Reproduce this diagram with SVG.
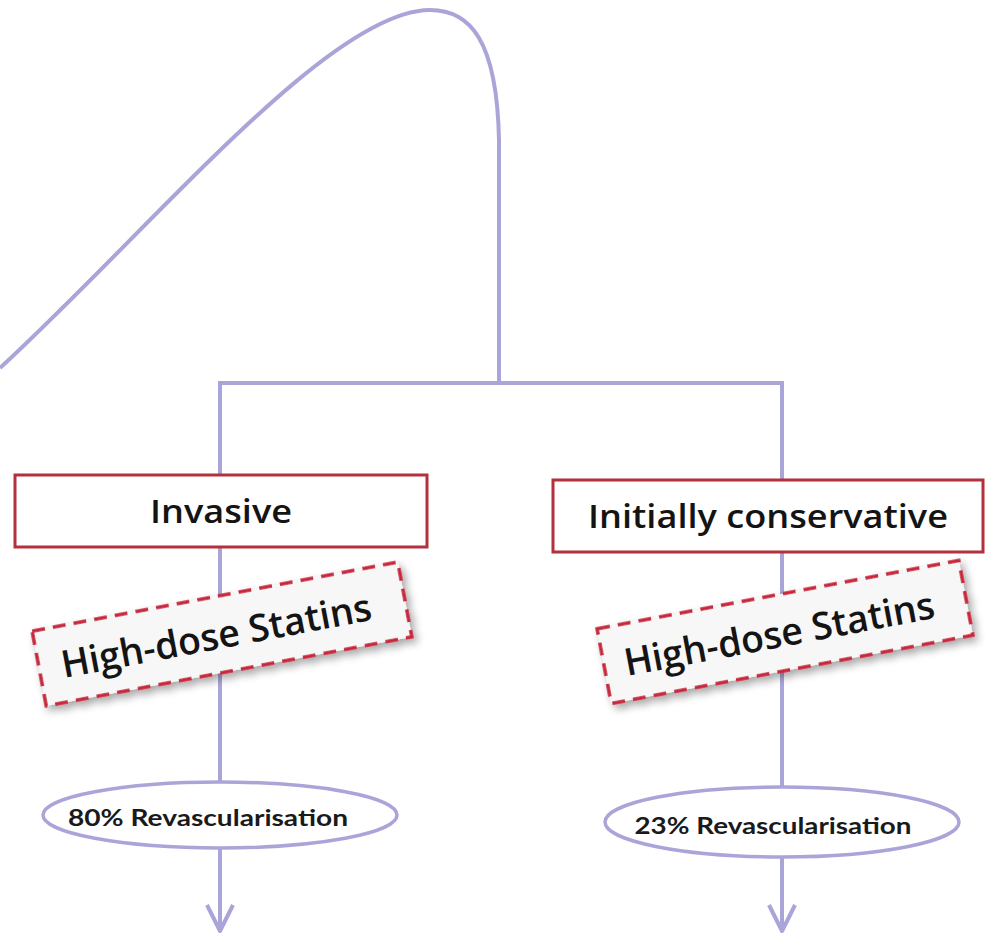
<svg xmlns="http://www.w3.org/2000/svg" width="985" height="937" viewBox="0 0 985 937">
  <defs>
    <style>
      .wire { fill: none; stroke: #aaa5d8; stroke-width: 4; stroke-linecap: butt; stroke-linejoin: round; }
      .box { fill: #ffffff; stroke: #b3303d; stroke-width: 3; }
      .dash { fill: #f7f7f7; stroke: #c8283c; stroke-width: 3.5; stroke-dasharray: 13 8; }
      .oval { fill: #ffffff; stroke: #aaa5d8; stroke-width: 3.5; }
      .label { font-family: "Open Sans", "Liberation Sans", sans-serif; font-weight: 600; fill: #141414; text-anchor: middle; }
      .pct { font-family: "Lato", "Open Sans", sans-serif; font-weight: 700; fill: #1a1a1a; text-anchor: middle; }
    </style>
    <filter id="shadow" x="-10%" y="-20%" width="125%" height="150%">
      <feGaussianBlur in="SourceAlpha" stdDeviation="4"/>
      <feOffset dx="3" dy="5" result="blur"/>
      <feComponentTransfer><feFuncA type="linear" slope="0.35"/></feComponentTransfer>
      <feMerge><feMergeNode/><feMergeNode in="SourceGraphic"/></feMerge>
    </filter>
  </defs>

  <rect width="985" height="937" fill="#ffffff"/>

  <g id="connectors">
    <!-- curve rising from the left edge and dropping to the split -->
    <path class="wire" d="M0,368 C150,230 330,10 430,10 C470,10 497,40 499,140 L499,383"/>
    <!-- split bar -->
    <path class="wire" d="M220,383 H782"/>
    <!-- left branch -->
    <path class="wire" d="M220,381 V475 M220,547 V782 M220,848 V932 M207,905 L220,931 L233,905"/>
    <!-- right branch -->
    <path class="wire" d="M782,381 V480 M782,552 V787 M782,857 V932 M769,905 L782,931 L795,905"/>
  </g>

  <g id="invasive">
    <rect class="box" x="15" y="475" width="412" height="72"/>
    <text class="label" x="221" y="523" font-size="32" textLength="142" lengthAdjust="spacingAndGlyphs">Invasive</text>
  </g>

  <g id="conservative">
    <rect class="box" x="553" y="480" width="430" height="72"/>
    <text class="label" x="768" y="528" font-size="32" textLength="360" lengthAdjust="spacingAndGlyphs">Initially conservative</text>
  </g>

  <g id="statins-left" transform="translate(222,634) rotate(-10.7)">
    <rect class="dash" x="-186" y="-38" width="372" height="76" filter="url(#shadow)"/>
    <text class="label" x="-6" y="14" font-size="38" textLength="315" lengthAdjust="spacingAndGlyphs">High-dose Statins</text>
  </g>

  <g id="statins-right" transform="translate(785,632) rotate(-10.7)">
    <rect class="dash" x="-184" y="-38" width="368" height="76" filter="url(#shadow)"/>
    <text class="label" x="-6" y="14" font-size="38" textLength="315" lengthAdjust="spacingAndGlyphs">High-dose Statins</text>
  </g>

  <g id="revasc-left">
    <ellipse class="oval" cx="220" cy="815" rx="177" ry="33"/>
    <text class="pct" x="208" y="826" font-size="23" textLength="280" lengthAdjust="spacingAndGlyphs">80% Revascularisation</text>
  </g>

  <g id="revasc-right">
    <ellipse class="oval" cx="782" cy="822" rx="177" ry="35"/>
    <text class="pct" x="773" y="834" font-size="23" textLength="277" lengthAdjust="spacingAndGlyphs">23% Revascularisation</text>
  </g>
</svg>
